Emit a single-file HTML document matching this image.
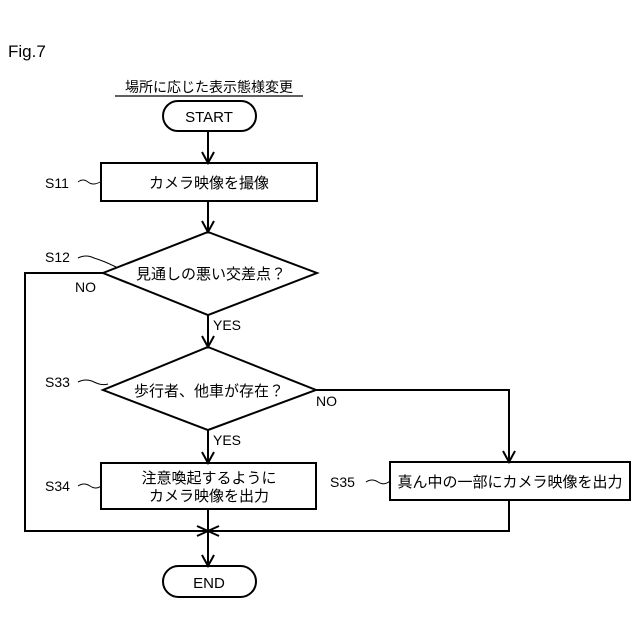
<!DOCTYPE html>
<html><head><meta charset="utf-8"><style>
html,body{margin:0;padding:0;background:#fff;}
svg{display:block;}
text{font-family:"Liberation Sans","Noto Sans CJK JP",sans-serif;fill:#000;}
</style></head><body>
<svg width="640" height="640" viewBox="0 0 640 640" xmlns="http://www.w3.org/2000/svg">
<g stroke="#000" stroke-width="2" fill="none">
<!-- start -->
<rect x="163" y="101" width="93" height="30" rx="15" fill="#fff"/>
<line x1="208" y1="131" x2="208" y2="163"/>
<polyline points="202,152 208,163 214,152"/>
<!-- S11 -->
<rect x="101" y="163" width="216" height="38"/>
<line x1="208" y1="201" x2="208" y2="232"/>
<polyline points="202,221 208,232 214,221"/>
<!-- S12 -->
<polygon points="208,232 317,273 208,315 103,273"/>
<polyline points="103,273 25,273 25,531 208,531"/>
<polyline points="197,526 208,531 197,536"/>
<line x1="208" y1="315" x2="208" y2="347"/>
<polyline points="202,336 208,347 214,336"/>
<!-- S33 -->
<polygon points="208,347 316,390 208,430 103,390"/>
<polyline points="316,390 509,390 509,462"/>
<polyline points="503,451 509,462 515,451"/>
<line x1="208" y1="430" x2="208" y2="463"/>
<polyline points="202,452 208,463 214,452"/>
<!-- S34 -->
<rect x="101" y="463" width="215" height="46"/>
<line x1="208" y1="509" x2="208" y2="566"/>
<polyline points="202,555 208,566 214,555"/>
<!-- S35 -->
<rect x="390" y="462" width="240" height="38"/>
<polyline points="509,500 509,531 208,531"/>
<polyline points="219,526 208,531 219,536"/>
<!-- END -->
<rect x="163" y="566" width="93" height="31" rx="15.5"/>
<!-- squiggles -->
<path d="M78,182 q5,-4 10,0 q5,4 12,0" stroke-width="1"/>
<path d="M78,258 q8,-4 16,0 q10,3 22,9" stroke-width="1"/>
<path d="M78,382 q8,-4 16,0 q8,4 14,2" stroke-width="1"/>
<path d="M78,486 q6,-4 12,0 q6,4 11,0" stroke-width="1"/>
<path d="M366,482 q6,-4 12,0 q6,4 12,-1" stroke-width="1"/>
</g>
<line x1="115" y1="96" x2="303" y2="96" stroke="#000" stroke-width="1.2"/>
<text x="8" y="57" font-size="17">Fig.7</text>
<text x="209" y="92" font-size="14" text-anchor="middle">場所に応じた表示態様変更</text>
<text x="209" y="122" font-size="15" text-anchor="middle">START</text>
<text x="209" y="188" font-size="15" text-anchor="middle">カメラ映像を撮像</text>
<text x="211" y="279" font-size="15" text-anchor="middle">見通しの悪い交差点？</text>
<text x="209" y="396" font-size="15" text-anchor="middle">歩行者、他車が存在？</text>
<text x="209" y="483" font-size="15" text-anchor="middle">注意喚起するように</text>
<text x="209" y="501" font-size="15" text-anchor="middle">カメラ映像を出力</text>
<text x="510" y="487" font-size="15" text-anchor="middle">真ん中の一部にカメラ映像を出力</text>
<text x="209" y="588" font-size="15" text-anchor="middle">END</text>
<text x="45" y="188" font-size="14">S11</text>
<text x="45" y="262" font-size="14">S12</text>
<text x="45" y="387" font-size="14">S33</text>
<text x="45" y="491" font-size="14">S34</text>
<text x="330" y="487" font-size="14">S35</text>
<text x="75" y="292" font-size="14">NO</text>
<text x="213" y="330" font-size="14">YES</text>
<text x="316" y="406" font-size="14">NO</text>
<text x="213" y="445" font-size="14">YES</text>
</svg>
</body></html>
